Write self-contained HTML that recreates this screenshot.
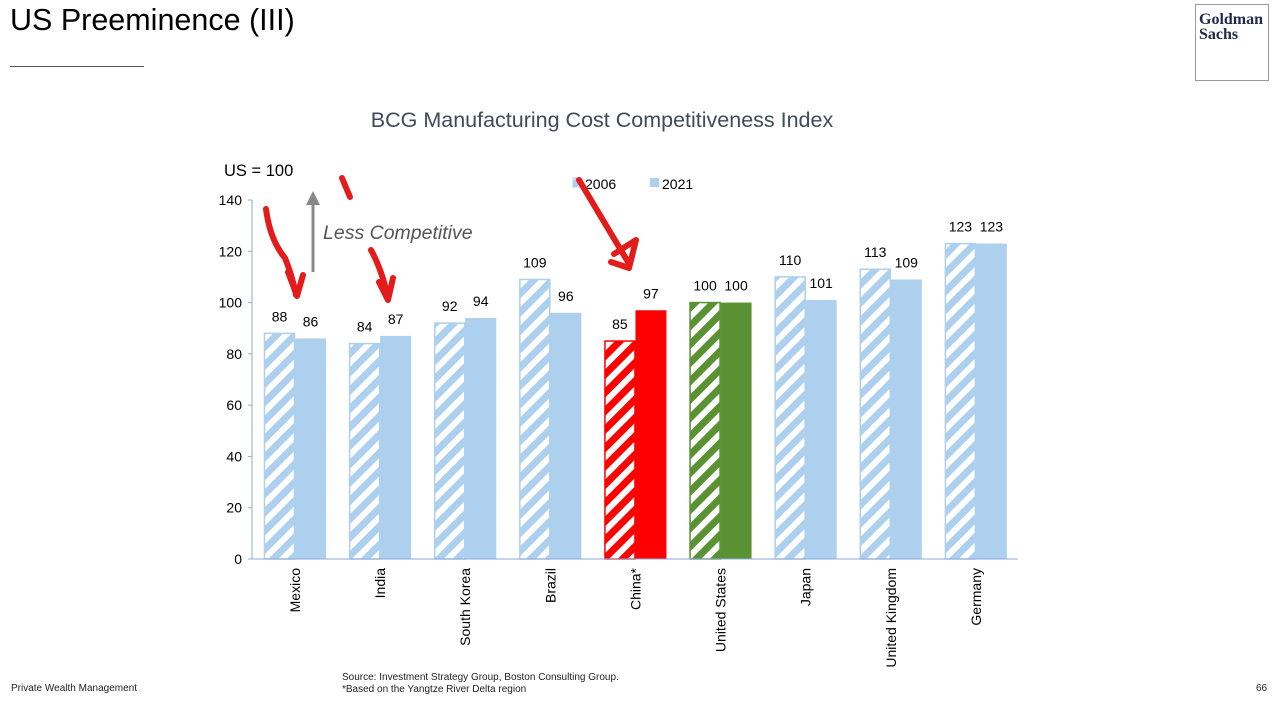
<!DOCTYPE html>
<html><head><meta charset="utf-8"><style>
body{margin:0;background:#fff;width:1275px;height:711px;overflow:hidden;font-family:"Liberation Sans",sans-serif;position:relative}
.t{position:absolute;white-space:nowrap}
</style></head><body>
<div class="t" style="left:10px;top:3px;font-size:30.5px;color:#000">US Preeminence (III)</div>
<div style="position:absolute;left:10px;top:66px;width:134px;height:1px;background:#555"></div>
<div style="position:absolute;left:1195px;top:4px;width:74px;height:77px;border:1px solid #999;box-sizing:border-box;font-family:'Liberation Serif',serif;font-weight:bold;color:#1f2a4a;font-size:16px;line-height:15px;padding:7px 0 0 3px">Goldman<br>Sachs</div>
<div class="t" style="left:11px;top:683px;font-size:10px;color:#222">Private Wealth Management</div>
<div class="t" style="left:342px;top:672px;font-size:10px;color:#222;line-height:12px">Source: Investment Strategy Group, Boston Consulting Group.<br>*Based on the Yangtze River Delta region</div>
<div class="t" style="left:1256px;top:683px;font-size:10px;color:#222">66</div>
<svg width="1275" height="711" style="position:absolute;left:0;top:0">
<defs>
<pattern id="hb" patternUnits="userSpaceOnUse" width="13" height="13" patternTransform="rotate(45)"><rect width="13" height="13" fill="#fff"/><rect width="7" height="13" fill="#acd0ee"/></pattern>
<pattern id="hr" patternUnits="userSpaceOnUse" width="13" height="13" patternTransform="rotate(45)"><rect width="13" height="13" fill="#fff"/><rect width="7" height="13" fill="#ff0000"/></pattern>
<pattern id="hg" patternUnits="userSpaceOnUse" width="13" height="13" patternTransform="rotate(45)"><rect width="13" height="13" fill="#fff"/><rect width="7" height="13" fill="#5a9132"/></pattern>
</defs>
<g id="g"></g>
</svg>
<script>
const categories=["Mexico","India","South Korea","Brazil","China*","United States","Japan","United Kingdom","Germany"];
const v2006=[88,84,92,109,85,100,110,113,123];
const v2021=[86,87,94,96,97,100,101,109,123];
const yTicks=[0,20,40,60,80,100,120,140];
const NS="http://www.w3.org/2000/svg";
const g=document.getElementById('g');
const X0=252,X1=1018,Y0=559,Y1=200,YMAX=140;
const pitch=(X1-X0)/categories.length;
const y=v=>Y0-(v/YMAX)*(Y0-Y1);
const xg=i=>X0+i*pitch;
function el(t,a,txt){const e=document.createElementNS(NS,t);for(const k in a)e.setAttribute(k,a[k]);if(txt!==undefined)e.textContent=txt;g.appendChild(e);return e;}
const txt=(x,yy,s,o)=>el('text',Object.assign({x:x,y:yy,'font-family':'Liberation Sans, sans-serif','font-size':14,fill:'#000'},o||{}),s);
let e=txt(602,127,"BCG Manufacturing Cost Competitiveness Index",{'text-anchor':'middle','font-size':21.5,fill:'#404a5a'});

e=txt(224,176,"US = 100",{'font-size':16.5});

yTicks.forEach(t=>{
 const l=el('line',{x1:248,x2:X0,y1:y(t),y2:y(t),stroke:'#8eaadb'});
 
 const tt=txt(242,y(t)+5,String(t),{'text-anchor':'end'});
 
});
categories.forEach((c,i)=>{
 const isC=c==="China*",isU=c==="United States";
 const f1=isC?'url(#hr)':isU?'url(#hg)':'url(#hb)';
 const f2=isC?'#ff0000':isU?'#5a9132':'#acd0ee';
 const st=isC?'#ff0000':isU?'#5a9132':'#acd0ee';
 const bx=xg(i)+12,w=31;
 let r=el('rect',{x:bx+0.5,y:y(v2006[i]),width:w-1,height:Y0-y(v2006[i]),fill:f1,stroke:st,'stroke-width':1.5});
 
 r=el('rect',{x:bx+w,y:y(v2021[i]),width:w,height:Y0-y(v2021[i]),fill:f2});
 
 let l=txt(bx+w/2,y(v2006[i])-12,String(v2006[i]),{'text-anchor':'middle'});
 
 l=txt(bx+w*1.5,y(v2021[i])-12,String(v2021[i]),{'text-anchor':'middle'});
 
 const cx=bx+w+5;
 l=txt(cx,568,c,{'text-anchor':'end',transform:`rotate(-90 ${cx} 568)`});
 
});
e=el('line',{x1:X0,x2:X0,y1:Y1,y2:Y0,stroke:'#8eaadb'});
e=el('line',{x1:X0,x2:X1,y1:Y0,y2:Y0,stroke:'#8eaadb'});
e=el('rect',{x:573,y:178,width:9,height:9,fill:'url(#hb)',stroke:'#acd0ee'});
e=txt(585,189,"2006");
e=el('rect',{x:650,y:178,width:9,height:9,fill:'#acd0ee'});
e=txt(662,189,"2021");
e=el('line',{x1:313,x2:313,y1:272,y2:202,stroke:'#888','stroke-width':3});
e=el('path',{d:'M306,205 L313,191 L320,205 Z',fill:'#888'});
e=txt(323,239,"Less Competitive",{'font-size':19.5,'font-style':'italic',fill:'#555'});
const red={stroke:'#e31b1b','stroke-width':6,fill:'none','stroke-linecap':'round','stroke-linejoin':'round'};
[['M266,209 Q270,240 285,258 Q292,275 296,295','annotation-arrow-mexico'],['M288,272 L297,296 L303,275','annotation-arrowhead-mexico'],
 ['M371,250 Q382,270 388,298','annotation-arrow-india'],['M379,282 L388,300 L393,278','annotation-arrowhead-india'],
 ['M342,178 L350,197','annotation-mark'],
 ['M579,180 Q600,215 628,262','annotation-arrow-china'],['M614,254 L636,240 L629,268 L611,262','annotation-arrowhead-china']].forEach(p=>{
 const q=el('path',Object.assign({d:p[0]},red));});
</script>
</body></html>
